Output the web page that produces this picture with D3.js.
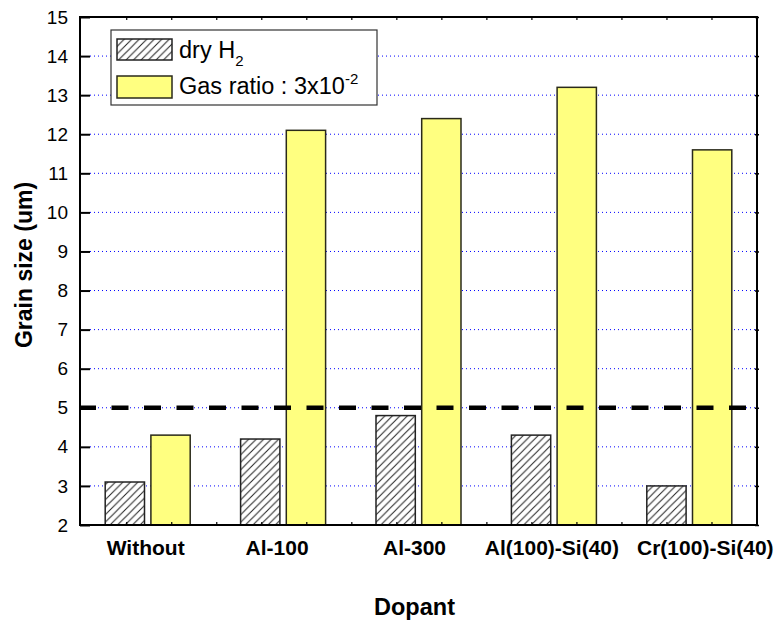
<!DOCTYPE html>
<html>
<head>
<meta charset="utf-8">
<script src="https://cdn.jsdelivr.net/npm/d3@7/dist/d3.min.js"></script>
<style>
  html, body { margin: 0; padding: 0; background: #fff; }
  svg { display: block; font-family: "Liberation Sans", Arial, sans-serif; }
</style>
</head>
<body>
<svg id="chart" width="782" height="624"></svg>
<script>
// Dopant categories and grain sizes (um) for each annealing atmosphere
const categories = ["Without", "Al-100", "Al-300", "Al(100)-Si(40)", "Cr(100)-Si(40)"];
const seriesNames = ["dry", "gas"];
const dryH2 = [3.1, 4.2, 4.8, 4.3, 3.0];
const gasRatio = [4.3, 12.1, 12.4, 13.2, 11.6];
const yTicks = [2, 3, 4, 5, 6, 7, 8, 9, 10, 11, 12, 13, 14, 15];
const yDomain = [2, 15];
const referenceLevel = 5;

const W = 782, H = 624;
const margin = { top: 17, right: 25, bottom: 99, left: 80 };
const x0 = margin.left, x1 = W - margin.right;
const y0 = H - margin.bottom, y1 = margin.top;

const svg = d3.select("#chart");

// hatch pattern for the dry H2 bars
const defs = svg.append("defs");
const pat = defs.append("pattern")
  .attr("id", "hatch")
  .attr("patternUnits", "userSpaceOnUse")
  .attr("width", 7.5).attr("height", 7.5);
pat.append("rect").attr("width", 7.5).attr("height", 7.5).attr("fill", "#fff");
pat.append("path")
  .attr("d", "M-2,2 L2,-2 M0,7.5 L7.5,0 M5.5,9.5 L9.5,5.5")
  .attr("stroke", "#222").attr("stroke-width", 1);

const x = d3.scaleBand().domain(categories).range([x0, x1]).paddingInner(0).paddingOuter(0);
const groupW = 85;
const xs = d3.scaleBand().domain(seriesNames)
  .range([(x.bandwidth() - groupW) / 2, (x.bandwidth() + groupW) / 2])
  .paddingInner(0.14);
const y = d3.scaleLinear().domain(yDomain).range([y0, y1]);

// blue dotted gridlines
svg.append("g")
  .selectAll("line")
  .data(yTicks.filter(t => t > yDomain[0] && t < yDomain[1]))
  .join("line")
  .attr("x1", x0 + 10).attr("x2", x1)
  .attr("y1", d => y(d)).attr("y2", d => y(d))
  .attr("stroke", "#0000ff").attr("stroke-width", 1)
  .attr("stroke-dasharray", "1,3");

// bars
const rows = categories.map((c, i) => ({ cat: c, dry: dryH2[i], gas: gasRatio[i] }));
const groups = svg.append("g").selectAll("g")
  .data(rows).join("g")
  .attr("transform", d => `translate(${x(d.cat)},0)`);

groups.append("rect")
  .attr("x", xs("dry")).attr("width", xs.bandwidth())
  .attr("y", d => y(d.dry)).attr("height", d => y0 - y(d.dry))
  .attr("fill", "url(#hatch)").attr("stroke", "#222").attr("stroke-width", 1.5);

groups.append("rect")
  .attr("x", xs("gas")).attr("width", xs.bandwidth())
  .attr("y", d => y(d.gas)).attr("height", d => y0 - y(d.gas))
  .attr("fill", "#ffff80").attr("stroke", "#2a2a1a").attr("stroke-width", 1.5);

// thick dashed reference line at 5 um
svg.append("line")
  .attr("x1", x0 - 1).attr("x2", x1)
  .attr("y1", y(referenceLevel)).attr("y2", y(referenceLevel))
  .attr("stroke", "#000").attr("stroke-width", 4.5)
  .attr("stroke-dasharray", "17,15.5");

// left axis with inward ticks
const yAxis = d3.axisLeft(y).tickValues(yTicks).tickSize(-10).tickPadding(12).tickFormat(d3.format("d"));
const gy = svg.append("g").attr("transform", `translate(${x0},0)`).call(yAxis);
gy.select(".domain").remove();
gy.selectAll(".tick line").attr("stroke", "#000").attr("stroke-width", 2);
gy.selectAll(".tick text").attr("font-size", 19).attr("fill", "#000");

// right axis small ticks
const gr = svg.append("g").attr("transform", `translate(${x1},0)`)
  .call(d3.axisRight(y).tickValues(yTicks).tickSize(2).tickFormat(""));
gr.select(".domain").remove();
gr.selectAll(".tick line").attr("stroke", "#000").attr("stroke-width", 1.5).attr("x1", -2);

// top and bottom minor ticks
const xMinor = d3.scaleLinear().domain([0, 15]).range([x0 + 1.7, x1]);
const minorTicks = d3.range(1, 15);
svg.append("g").selectAll("line").data(minorTicks).join("line")
  .attr("x1", d => xMinor(d)).attr("x2", d => xMinor(d))
  .attr("y1", y1).attr("y2", y1 + 3).attr("stroke", "#000").attr("stroke-width", 1.2);
svg.append("g").selectAll("line").data(minorTicks).join("line")
  .attr("x1", d => xMinor(d)).attr("x2", d => xMinor(d))
  .attr("y1", y0).attr("y2", y0 - 3).attr("stroke", "#000").attr("stroke-width", 1.2);

// frame
svg.append("rect")
  .attr("x", x0).attr("y", y1).attr("width", x1 - x0).attr("height", y0 - y1)
  .attr("fill", "none").attr("stroke", "#000").attr("stroke-width", 2);

// category labels
const labelNudge = [-2, -6, -4, -2, 16];
const gx = svg.append("g").attr("transform", `translate(0,${y0})`)
  .call(d3.axisBottom(x).tickSize(0).tickPadding(0));
gx.select(".domain").remove();
gx.selectAll(".tick text")
  .attr("font-size", 21).attr("font-weight", "bold").attr("fill", "#000")
  .attr("dy", null).attr("y", 30)
  .attr("x", (d, i) => labelNudge[i]);

// axis titles
svg.append("text")
  .attr("x", (x0 + x1) / 2 - 4).attr("y", 615)
  .attr("text-anchor", "middle").attr("font-size", 23.5).attr("font-weight", "bold")
  .text("Dopant");
svg.append("text")
  .attr("transform", `translate(32,${(y0 + y1) / 2 - 6}) rotate(-90)`)
  .attr("text-anchor", "middle").attr("font-size", 23).attr("font-weight", "bold")
  .text("Grain size (um)");

// legend
const lg = svg.append("g").attr("transform", "translate(111,30)");
lg.append("rect").attr("width", 266).attr("height", 75)
  .attr("fill", "#fff").attr("stroke", "#333").attr("stroke-width", 1.2);
lg.append("rect").attr("x", 6).attr("y", 9).attr("width", 55).attr("height", 21)
  .attr("fill", "url(#hatch)").attr("stroke", "#222").attr("stroke-width", 1.5);
lg.append("rect").attr("x", 6).attr("y", 46).attr("width", 55).attr("height", 22)
  .attr("fill", "#ffff80").attr("stroke", "#2a2a1a").attr("stroke-width", 1.5);
const t1 = lg.append("text").attr("x", 68).attr("y", 28).attr("font-size", 23.5);
t1.append("tspan").text("dry H");
t1.append("tspan").attr("font-size", 15).attr("dy", 8).text("2");
const t2 = lg.append("text").attr("x", 68).attr("y", 64).attr("font-size", 23.5);
t2.append("tspan").text("Gas ratio : 3x10");
t2.append("tspan").attr("font-size", 15).attr("dy", -10).text("-2");
</script>
</body>
</html>
